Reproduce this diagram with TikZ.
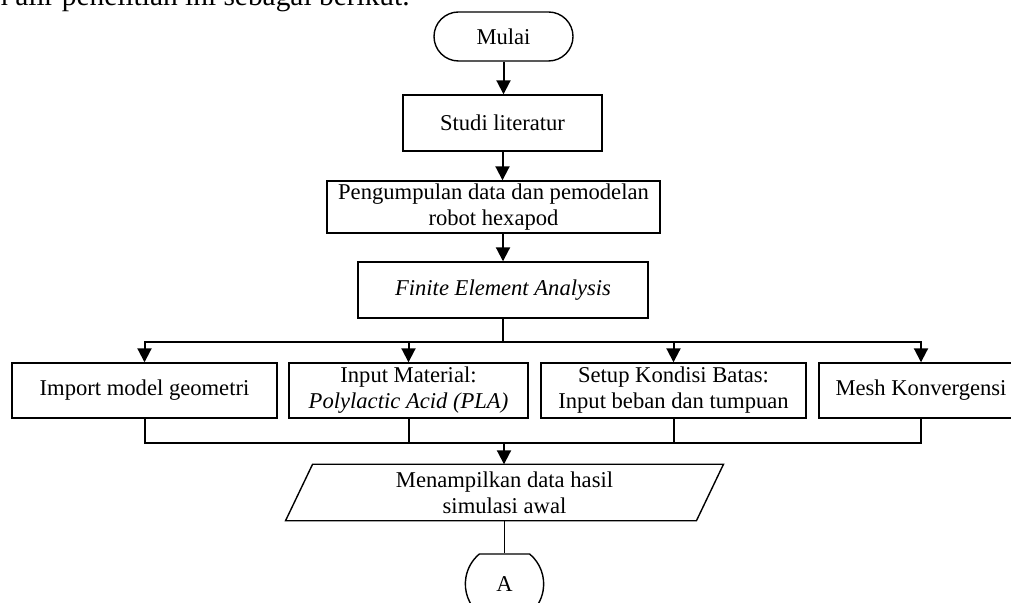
\documentclass[tikz,border=0pt]{standalone}
\usepackage{fontspec}
\setmainfont{Liberation Serif}
\usetikzlibrary{shapes,arrows.meta}

\begin{document}
\begin{tikzpicture}[x=0.5pt,y=-0.5pt,
  kotak/.style={draw,line width=0.7pt,inner sep=0pt,align=center,font=\fontsize{11.3}{13}\selectfont},
  panah/.style={line width=1pt,-{Triangle[width=7pt,length=7pt]}},
  garis/.style={line width=1pt}]
\useasboundingbox (0,0) rectangle (1011,603);
\clip (0,0) rectangle (1011,603);
\node[anchor=base east,inner sep=0pt,font=\fontsize{14.7}{17}\selectfont] (pengantar) at (410,6) {Diagram alir penelitian ini sebagai berikut.};
\node[kotak,rounded rectangle,minimum width=69.5pt,minimum height=24.5pt] (mulai) at (503.5,36.5) {Mulai};
\node[kotak,minimum width=99.5pt,minimum height=28pt] (studi) at (502.5,123) {Studi literatur};
\node[kotak,minimum width=166.5pt,minimum height=26pt] (data) at (493.5,207) {Pengumpulan data dan pemodelan\\robot hexapod};
\node[kotak,minimum width=145pt,minimum height=28pt] (fea) at (503,290) {\textit{Finite Element Analysis}};
\node[kotak,minimum width=132.5pt,minimum height=27.5pt] (impor) at (144.5,390.5) {Import model geometri};
\node[kotak,minimum width=119.5pt,minimum height=27.5pt] (material) at (408.5,390.5) {Input Material:\\\textit{Polylactic Acid (PLA)}};
\node[kotak,minimum width=132.5pt,minimum height=27.5pt] (batas) at (673.5,390.5) {Setup Kondisi Batas:\\Input beban dan tumpuan};
\node[kotak,minimum width=102pt,minimum height=27.5pt] (mesh) at (921,390.5) {Mesh Konvergensi};
\node[kotak,draw=none,minimum width=204.75pt,minimum height=27.5pt] (hasil) at (504.5,492.5) {Menampilkan data hasil\\simulasi awal};
\node[kotak,rounded rectangle,rounded rectangle arc length=100,minimum width=34.5pt,minimum height=30pt] (konektor) at (504.5,584) {A};
\coordinate (cabang) at (503,342);
\coordinate (gabung) at (504,443);
% jajaran genjang untuk data keluaran
\draw[line width=0.7pt] ([xshift=6.75pt]hasil.north west) -- ([xshift=6.75pt]hasil.north east) -- ([xshift=-6.75pt]hasil.south east) -- ([xshift=-6.75pt]hasil.south west) -- cycle;
\draw[panah] (mulai.south) -- (mulai.south |- studi.north);
\draw[panah] (studi.south) -- (studi.south |- data.north);
\draw[panah] (fea.north |- data.south) -- (fea.north);
\draw[garis] (fea.south) -- (cabang);
\draw[panah] (cabang) -| (impor.north);
\draw[panah] (cabang) -| (mesh.north);
\draw[panah] (material.north |- cabang) -- (material.north);
\draw[panah] (batas.north |- cabang) -- (batas.north);
\draw[garis] (impor.south) |- (gabung) -| (mesh.south);
\draw[garis] (material.south) -- (material.south |- gabung);
\draw[garis] (batas.south) -- (batas.south |- gabung);
\draw[panah] (gabung) -- (gabung |- hasil.north);
\draw[line width=0.5pt] (hasil.south) -- (konektor.north);
\end{tikzpicture}
\end{document}
